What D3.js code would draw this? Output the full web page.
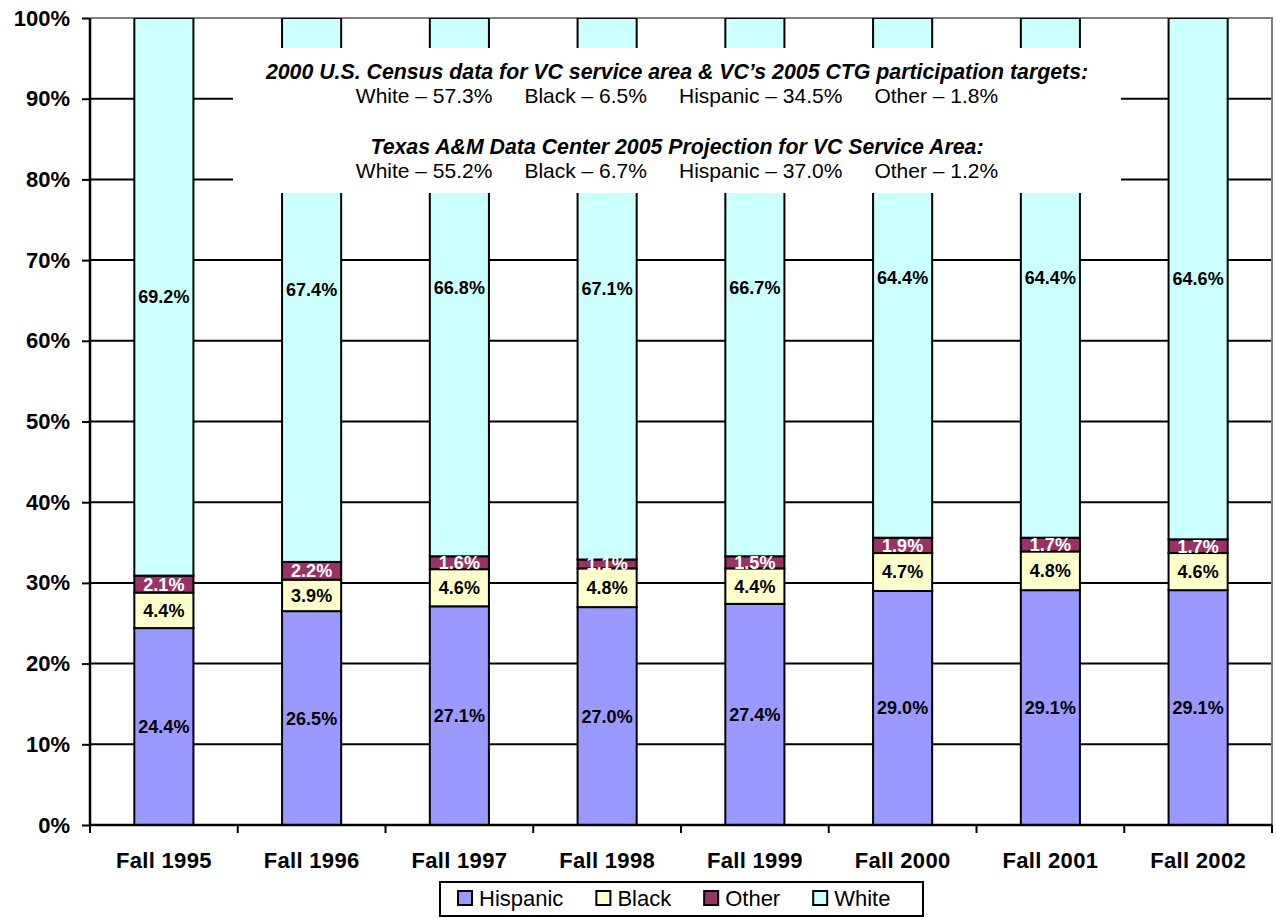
<!DOCTYPE html>
<html>
<head>
<meta charset="utf-8">
<script src="https://cdn.jsdelivr.net/npm/d3@7"></script>
<style>
  html, body { margin: 0; padding: 0; background: #ffffff; }
  svg { display: block; }
  text { font-family: "Liberation Sans", Arial, Helvetica, sans-serif; }
</style>
</head>
<body>
<svg id="chart" width="1276" height="918"></svg>
<script>
// Fall enrollment by ethnicity (percent of total)
const terms = ["Fall 1995", "Fall 1996", "Fall 1997", "Fall 1998", "Fall 1999", "Fall 2000", "Fall 2001", "Fall 2002"];
const hispanic = [24.4, 26.5, 27.1, 27.0, 27.4, 29.0, 29.1, 29.1];
const black    = [4.4, 3.9, 4.6, 4.8, 4.4, 4.7, 4.8, 4.6];
const other    = [2.1, 2.2, 1.6, 1.1, 1.5, 1.9, 1.7, 1.7];
const white    = [69.2, 67.4, 66.8, 67.1, 66.7, 64.4, 64.4, 64.6];
const seriesNames = ["Hispanic", "Black", "Other", "White"];
const yTicks = [0, 10, 20, 30, 40, 50, 60, 70, 80, 90, 100];

// Reference figures shown in the note box
const censusTitle = "2000 U.S. Census data for VC service area & VC\u2019s 2005 CTG participation targets:";
const censusItems = ["White \u2013 57.3%", "Black \u2013 6.5%", "Hispanic \u2013 34.5%", "Other \u2013 1.8%"];
const projTitle = "Texas A&M Data Center 2005 Projection for VC Service Area:";
const projItems = ["White \u2013 55.2%", "Black \u2013 6.7%", "Hispanic \u2013 37.0%", "Other \u2013 1.2%"];

const colors = { Hispanic: "#9999ff", Black: "#ffffcc", Other: "#993366", White: "#ccffff" };
const labelColors = { Hispanic: "#000000", Black: "#000000", Other: "#ffffff", White: "#000000" };

const rows = terms.map((t, i) => ({
  term: t, Hispanic: hispanic[i], Black: black[i], Other: other[i], White: white[i]
}));

const svg = d3.select("#chart");
const W = 1276, H = 918;
const margin = { top: 18, right: 4, bottom: 93, left: 90 };
const x0 = margin.left, x1 = W - margin.right;
const yTop = margin.top, yBot = H - margin.bottom;

const x = d3.scaleBand().domain(terms).range([x0, x1]).paddingInner(0.6).paddingOuter(0.3);
const y = d3.scaleLinear().domain([0, 100]).range([yBot, yTop]);

const stack = d3.stack().keys(seriesNames);
const stacked = stack(rows);

svg.append("defs").append("clipPath").attr("id", "plotClip")
  .append("rect").attr("x", x0 - 2).attr("y", yTop).attr("width", x1 - x0 + 4).attr("height", yBot - yTop + 2);

// Horizontal gridlines
svg.append("g").selectAll("line")
  .data(yTicks.filter(v => v > 0 && v < 100))
  .join("line")
  .attr("x1", x0).attr("x2", x1)
  .attr("y1", d => y(d)).attr("y2", d => y(d))
  .attr("stroke", "#000").attr("stroke-width", 2);

// Plot area border (top and right)
svg.append("path")
  .attr("d", `M${x0},${yTop}H${x1}V${yBot}`)
  .attr("fill", "none").attr("stroke", "#808080").attr("stroke-width", 2);

// Stacked bars
const barsG = svg.append("g").attr("clip-path", "url(#plotClip)");
stacked.forEach(layer => {
  barsG.append("g").selectAll("rect")
    .data(layer)
    .join("rect")
    .attr("x", d => x(d.data.term))
    .attr("width", x.bandwidth())
    .attr("y", d => y(Math.min(d[1], 100)))
    .attr("height", d => y(d[0]) - y(Math.min(d[1], 100)))
    .attr("fill", colors[layer.key])
    .attr("stroke", "#000").attr("stroke-width", 2);
});

// Segment value labels
stacked.forEach(layer => {
  svg.append("g").selectAll("text")
    .data(layer)
    .join("text")
    .attr("x", d => x(d.data.term) + x.bandwidth() / 2)
    .attr("y", d => (y(d[0]) + y(Math.min(d[1], 100))) / 2)
    .attr("dy", "0.36em")
    .attr("text-anchor", "middle")
    .attr("font-size", 18).attr("font-weight", "bold")
    .attr("fill", labelColors[layer.key])
    .text(d => (d.data[layer.key]).toFixed(1) + "%");
});

// Y axis
const yAxis = svg.append("g").attr("transform", `translate(${x0},0)`)
  .call(d3.axisLeft(y).tickValues(yTicks).tickFormat(d => d + "%").tickSize(8).tickPadding(12));
yAxis.select(".domain").attr("stroke", "#000").attr("stroke-width", 2.5)
  .attr("d", `M0,${yTop}V${yBot}`);
yAxis.selectAll(".tick line").attr("stroke", "#000").attr("stroke-width", 2);
yAxis.selectAll(".tick text")
  .attr("font-size", 22).attr("font-weight", "bold").attr("fill", "#000")
  .attr("font-family", "'Liberation Sans', Arial, sans-serif");

// X axis: ticks sit on category boundaries
const xAxisG = svg.append("g").attr("transform", `translate(0,${yBot})`);
xAxisG.append("line").attr("x1", x0).attr("x2", x1).attr("y1", 0).attr("y2", 0)
  .attr("stroke", "#000").attr("stroke-width", 2.5);
const bounds = d3.range(terms.length + 1).map(i => x0 + (x1 - x0) * i / terms.length);
xAxisG.selectAll("line.tk").data(bounds).join("line").attr("class", "tk")
  .attr("x1", d => d).attr("x2", d => d).attr("y1", 0).attr("y2", 8)
  .attr("stroke", "#000").attr("stroke-width", 2);
xAxisG.selectAll("text").data(terms).join("text")
  .attr("x", d => x(d) + x.bandwidth() / 2)
  .attr("y", 43)
  .attr("text-anchor", "middle")
  .attr("font-size", 22).attr("font-weight", "bold")
  .attr("letter-spacing", 0.3)
  .text(d => d);

// Note box with reference figures
const note = svg.append("g");
note.append("rect").attr("x", 233).attr("y", 48).attr("width", 888).attr("height", 145).attr("fill", "#fff");
const noteCx = 233 + 888 / 2;
function titleLine(txt, yy) {
  note.append("text").attr("x", noteCx).attr("y", yy).attr("text-anchor", "middle")
    .attr("font-size", 21.3).attr("font-weight", "bold").attr("font-style", "italic")
    .text(txt);
}
function itemsLine(items, yy) {
  const t = note.append("text").attr("x", noteCx).attr("y", yy).attr("text-anchor", "middle")
    .attr("font-size", 21);
  items.forEach((s, i) => t.append("tspan").attr("dx", i === 0 ? 0 : 32).text(s));
}
titleLine(censusTitle, 79);
itemsLine(censusItems, 103);
titleLine(projTitle, 154);
itemsLine(projItems, 178);

// Legend
const lg = svg.append("g");
lg.append("rect").attr("x", 440).attr("y", 882).attr("width", 483).attr("height", 34)
  .attr("fill", "#fff").attr("stroke", "#000").attr("stroke-width", 2);
let lx = 458;
seriesNames.forEach(name => {
  lg.append("rect").attr("x", lx).attr("y", 891).attr("width", 14).attr("height", 14)
    .attr("fill", colors[name]).attr("stroke", "#000").attr("stroke-width", 2);
  const t = lg.append("text").attr("x", lx + 21).attr("y", 906)
    .attr("font-size", 22).text(name);
  lx += 21 + t.node().getComputedTextLength() + 33;
});
</script>
</body>
</html>
